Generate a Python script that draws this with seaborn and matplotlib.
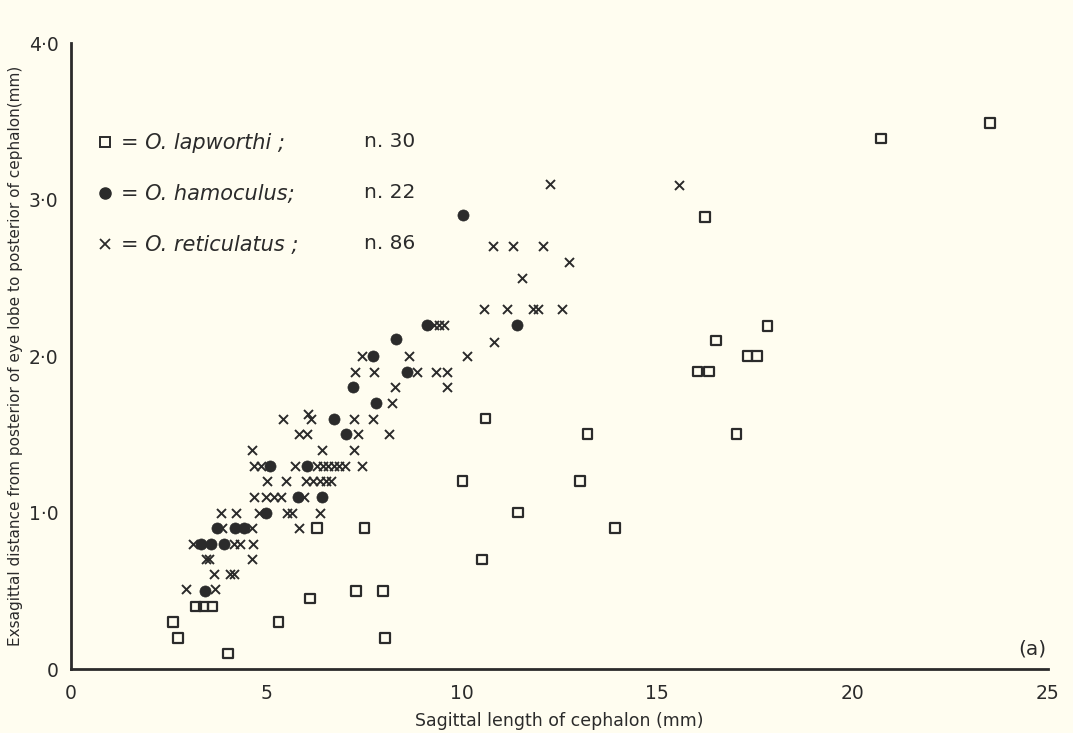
import numpy as np
import pandas as pd
import matplotlib
matplotlib.use("Agg")
import matplotlib.pyplot as plt
import seaborn as sns
from matplotlib.lines import Line2D

# ---- data ----
lap_x = [2.61, 2.73, 3.19, 3.39, 3.62, 4.01, 5.31, 6.11, 6.30, 7.30, 7.51, 7.99, 8.03,
         10.02, 10.52, 10.61, 11.44, 13.02, 13.22, 13.92, 16.03, 16.22, 16.33, 16.50,
         17.03, 17.31, 17.55, 17.82, 20.73, 23.52]
lap_y = [0.30, 0.20, 0.40, 0.40, 0.40, 0.10, 0.30, 0.45, 0.90, 0.50, 0.90, 0.50, 0.20,
         1.20, 0.70, 1.60, 1.00, 1.20, 1.50, 0.90, 1.90, 2.89, 1.90, 2.10,
         1.50, 2.00, 2.00, 2.19, 3.39, 3.49]

ham_x = [3.33, 3.42, 3.58, 3.74, 3.92, 4.19, 4.42, 5.00, 5.08, 5.81, 6.03, 6.41, 6.73,
         7.03, 7.22, 7.72, 7.80, 8.32, 8.61, 9.10, 10.03, 11.41]
ham_y = [0.80, 0.50, 0.80, 0.90, 0.80, 0.90, 0.90, 1.00, 1.30, 1.10, 1.30, 1.10, 1.60,
         1.50, 1.80, 2.00, 1.70, 2.11, 1.90, 2.20, 2.90, 2.20]

ret_x = [12.26, 15.55, 10.81, 11.32, 12.08, 12.73, 11.55, 10.56, 11.15, 11.81, 11.96, 12.56,
         9.29, 9.42, 9.55, 10.83, 7.45, 8.65, 10.13, 7.26, 7.74, 8.86, 9.33, 9.63,
         8.30, 9.63, 8.22, 5.43, 6.06, 6.15, 7.24, 7.73, 5.83, 6.04, 7.34, 8.14,
         4.63, 6.43, 7.24,
         4.67, 4.86, 5.74, 6.30, 6.44, 6.58, 6.72, 6.86, 7.00, 7.45,
         5.02, 5.50, 6.02, 6.20, 6.36, 6.52, 6.66,
         4.68, 5.00, 5.20, 5.38, 5.96,
         3.85, 4.23, 4.80, 5.53, 5.66, 6.36,
         3.87, 4.63, 5.83,
         3.12, 4.16, 4.33, 4.65,
         3.45, 3.52, 4.62,
         3.67, 4.08, 4.18,
         2.94, 3.69]
ret_y = [3.10, 3.09, 2.70, 2.70, 2.70, 2.60, 2.50, 2.30, 2.30, 2.30, 2.30, 2.30,
         2.20, 2.20, 2.20, 2.09, 2.00, 2.00, 2.00, 1.90, 1.90, 1.90, 1.90, 1.90,
         1.80, 1.80, 1.70, 1.60, 1.63, 1.60, 1.60, 1.60, 1.50, 1.50, 1.50, 1.50,
         1.40, 1.40, 1.40,
         1.30, 1.30, 1.30, 1.30, 1.30, 1.30, 1.30, 1.30, 1.30, 1.30,
         1.20, 1.20, 1.20, 1.20, 1.20, 1.20, 1.20,
         1.10, 1.10, 1.10, 1.10, 1.10,
         1.00, 1.00, 1.00, 1.00, 1.00, 1.00,
         0.90, 0.90, 0.90,
         0.80, 0.80, 0.80, 0.80,
         0.70, 0.70, 0.70,
         0.61, 0.61, 0.61,
         0.51, 0.51]

species = ["O. lapworthi", "O. hamoculus", "O. reticulatus"]
counts = ["n. 30", "n. 22", "n. 86"]
x_ticks = [0, 5, 10, 15, 20, 25]
x_ticklabels = ["0", "5", "10", "15", "20", "25"]
y_ticks = [0, 1, 2, 3, 4]
y_ticklabels = ["0", "1·0", "2·0", "3·0", "4·0"]

# ---- style ----
bg = "#fffdf0"
ink = "#2b2b2b"
sns.set_style("white")
plt.rcParams["font.family"] = ["DejaVu Sans"]

fig = plt.figure(figsize=(10.73, 7.33), dpi=100, facecolor=bg)
ax = fig.add_axes([0.0662, 0.0873, 0.9105, 0.854])
ax.set_facecolor(bg)

df_l = pd.DataFrame({"x": lap_x, "y": lap_y})
df_h = pd.DataFrame({"x": ham_x, "y": ham_y})
df_r = pd.DataFrame({"x": ret_x, "y": ret_y})

sns.scatterplot(data=df_l, x="x", y="y", ax=ax, marker="s", s=48,
                facecolor="none", edgecolor=ink, linewidth=1.6, zorder=3)
sns.scatterplot(data=df_h, x="x", y="y", ax=ax, marker="o", s=64,
                color=ink, edgecolor=ink, linewidth=0.5, zorder=3)
sns.scatterplot(data=df_r, x="x", y="y", ax=ax, marker="x", s=42,
                color=ink, linewidth=1.4, zorder=3)

ax.set_xlim(0, 25)
ax.set_ylim(0, 4)
ax.set_xticks(x_ticks)
ax.set_xticklabels(x_ticklabels)
ax.set_yticks(y_ticks)
ax.set_yticklabels(y_ticklabels)
ax.tick_params(axis="both", direction="out", length=7, width=1.2, colors=ink,
               labelsize=13.5, pad=4)
ax.tick_params(axis="y", pad=2)
for s in ["top", "right"]:
    ax.spines[s].set_visible(False)
for s in ["left", "bottom"]:
    ax.spines[s].set_color(ink)
    ax.spines[s].set_linewidth(2.0)

ax.set_xlabel("Sagittal length of cephalon (mm)", fontsize=12.5, color=ink, labelpad=6)
ax.set_ylabel("Exsagittal distance from posterior of eye lobe to posterior of cephalon(mm)",
              fontsize=11, color=ink, labelpad=4)

# legend
handles = [
    Line2D([], [], linestyle="none", marker="s", markersize=7, markerfacecolor="none",
           markeredgecolor=ink, markeredgewidth=1.4),
    Line2D([], [], linestyle="none", marker="o", markersize=8, color=ink),
    Line2D([], [], linestyle="none", marker="x", markersize=7, color=ink, markeredgewidth=1.3),
]
labels = ["= " + sp + (" ;" if i != 1 else ";") for i, sp in enumerate(species)]
leg = ax.legend(handles, labels, loc="upper left", bbox_to_anchor=(0.018, 0.869),
                frameon=False, fontsize=15, handlelength=0.8, handletextpad=0.35,
                labelspacing=1.48, borderaxespad=0)
for t in leg.get_texts():
    t.set_color(ink)
    t.set_fontstyle("italic")
rows = [0.842, 0.762, 0.679]
for c, r in zip(counts, rows):
    ax.text(0.30, r, c, transform=ax.transAxes, fontsize=14.5, color=ink, va="center")

ax.text(24.6, 0.13, "(a)", fontsize=14.5, color=ink, ha="center", va="center")

fig.savefig("out.png", dpi=100, facecolor=bg)
